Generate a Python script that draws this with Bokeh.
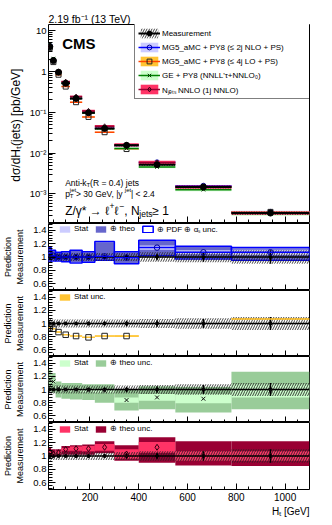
import numpy as np
from bokeh.plotting import figure
from bokeh.models import Range1d, FixedTicker, Label, Legend, LegendItem, Title
from bokeh.layouts import column
from bokeh.embed import file_html
from bokeh.resources import INLINE

# ---------------- data ----------------
ht_edges = [30, 41, 59, 83, 118, 168, 220, 300, 400, 550, 780, 1100]
xsec = [4.0, 1.83, 0.95, 0.51, 0.217, 0.097, 0.040, 0.0155, 0.0052, 0.00148, 0.00034]
meas_stat = [0.004, 0.005, 0.006, 0.007, 0.01, 0.015, 0.02, 0.03, 0.04, 0.06, 0.09]
meas_syst = [0.07, 0.06, 0.06, 0.06, 0.06, 0.06, 0.06, 0.06, 0.07, 0.08, 0.10]

nlo_ratio = [1.05, 1.02, 1.00, 1.00, 1.00, 1.00, 1.01, 0.99, 1.14, 1.07, 1.07]
nlo_stat = [0.01, 0.01, 0.01, 0.01, 0.01, 0.01, 0.015, 0.02, 0.03, 0.03, 0.04]
nlo_theo_lo = [0.93, 0.95, 0.95, 0.94, 0.92, 0.93, 0.96, 0.91, 1.03, 0.98, 0.96]
nlo_theo_hi = [1.13, 1.09, 1.06, 1.07, 1.09, 1.07, 1.22, 1.07, 1.24, 1.15, 1.13]
nlo_pdf_lo = [0.92, 0.94, 0.94, 0.93, 0.91, 0.92, 0.95, 0.90, 1.02, 0.97, 0.95]
nlo_pdf_hi = [1.14, 1.10, 1.07, 1.08, 1.10, 1.08, 1.23, 1.08, 1.25, 1.16, 1.14]

lo_ratio = [0.94, 0.92, 0.87, 0.83, 0.81, 0.79, 0.81, 0.81, np.nan, np.nan, 1.07]
lo_stat = [0.005, 0.005, 0.005, 0.005, 0.005, 0.005, 0.006, 0.01, np.nan, np.nan, 0.01]

ge_ratio = [1.15, 1.12, 1.02, 1.00, 1.00, 0.99, 0.98, 0.84, 0.88, 0.86, 0.98]
ge_stat = [0.04, 0.03, 0.03, 0.03, 0.03, 0.03, 0.03, 0.04, 0.05, 0.07, 0.10]
ge_theo_lo = [0.98, 0.95, 0.88, 0.86, 0.85, 0.84, 0.80, 0.68, 0.70, 0.65, 0.70]
ge_theo_hi = [1.30, 1.25, 1.12, 1.10, 1.10, 1.08, 1.08, 1.00, 1.05, 1.04, 1.27]

nj_ratio = [1.06, 1.03, 1.05, 1.10, 1.11, 1.11, 1.13, 1.03, 1.13, 1.00, 1.00]
nj_stat = [0.03, 0.02, 0.02, 0.02, 0.03, 0.04, 0.05, 0.07, 0.08, 0.07, 0.07]
nj_theo_lo = [0.98, 0.98, 1.00, 1.02, 1.02, 1.02, 1.04, 0.93, 0.90, 0.86, 0.85]
nj_theo_hi = [1.12, 1.10, 1.10, 1.15, 1.16, 1.17, 1.22, 1.16, 1.28, 1.22, 1.22]

x_major = [200, 400, 600, 800, 1000]
x_minor = [50, 100, 150, 250, 300, 350, 450, 500, 550, 650, 700, 750, 850, 900, 950, 1050]
y_major = [1e-3, 1e-2, 1e-1, 1, 10]
y_labels = {0.001: "10\u207b\u00b3", 0.01: "10\u207b\u00b2", 0.1: "10\u207b\u00b9", 1: "1", 10: "10"}
r_major = [0.6, 0.8, 1.0, 1.2, 1.4]
r_minor = [0.52, 0.56, 0.64, 0.68, 0.72, 0.76, 0.84, 0.88, 0.92, 0.96,
           1.04, 1.08, 1.12, 1.16, 1.24, 1.28, 1.32, 1.36, 1.44, 1.48]

# ---------------- geometry ----------------
FONT = "Liberation Sans"
BL, BR = 43, 21
FW = 266
TOT_W = BL + FW + BR
X0, X1 = 30, 1100
Y0, Y1 = 2e-4, 14
MAIN_H = 198
PPG = FW / (X1 - X0)
DEC = MAIN_H / np.log10(Y1 / Y0)


def fx(px):
    return X0 + px / PPG


def fy_main(py):
    return Y0 * 10 ** (py / DEC)


WID = {' ': 278, '!': 278, '(': 333, ')': 333, '*': 389, '+': 584, ',': 278, '-': 333, '.': 278,
       '/': 278, ':': 278, '<': 584, '=': 584, '>': 584, '[': 278, ']': 278, '_': 556, '|': 260,
       "'": 191, 'A': 667, 'B': 667, 'C': 722, 'D': 722, 'E': 667, 'F': 611, 'G': 778, 'H': 722,
       'I': 278, 'J': 500, 'K': 667, 'L': 556, 'M': 833, 'N': 722, 'O': 778, 'P': 667, 'Q': 778,
       'R': 722, 'S': 667, 'T': 611, 'U': 722, 'V': 667, 'W': 944, 'X': 667, 'Y': 667, 'Z': 611,
       'a': 556, 'b': 556, 'c': 500, 'd': 556, 'e': 556, 'f': 278, 'g': 556, 'h': 556, 'i': 222,
       'j': 222, 'k': 500, 'l': 222, 'm': 833, 'n': 556, 'o': 556, 'p': 556, 'q': 556, 'r': 333,
       's': 500, 't': 278, 'u': 556, 'v': 500, 'w': 722, 'x': 500, 'y': 500, 'z': 500,
       '\u03b3': 520, '\u03c3': 580, '\u03c4': 450, '\u2113': 420, '\u2192': 1000, '\u2265': 549,
       '\u2212': 584}
for d in "0123456789":
    WID[d] = 556


def tw(s, size):
    return sum(WID.get(c, 600) for c in s) * size / 1000.0


def rich(p, x, y, pieces, fyf, bold=False):
    pos = 0.0
    for piece in pieces:
        text, size, dy = piece[0], piece[1], piece[2]
        adv = piece[3] if len(piece) > 3 else True
        p.add_layout(Label(x=fx(x + pos), y=fyf(y + dy), text=text,
                           text_font=FONT, text_font_size=f"{size}px", text_color="black",
                           text_baseline="alphabetic", text_align="left",
                           text_font_style="bold" if bold else "normal"))
        if adv:
            pos += tw(text, size)


def tick_style(ax, major, minor, maj_len, min_len, labels, size="10px", standoff=2, overrides=None):
    ax.ticker = FixedTicker(ticks=major, minor_ticks=minor)
    ax.major_tick_in = maj_len
    ax.major_tick_out = 0
    ax.minor_tick_in = min_len
    ax.minor_tick_out = 0
    ax.axis_line_color = None
    ax.major_tick_line_color = "black"
    ax.minor_tick_line_color = "black"
    if labels:
        ax.major_label_text_font = FONT
        ax.major_label_text_font_size = size
        ax.major_label_text_color = "black"
        ax.major_label_text_alpha = 1.0
        ax.major_label_standoff = standoff
        if overrides:
            ax.major_label_overrides = overrides
    else:
        ax.major_label_text_font_size = "0px"
        ax.major_label_text_color = None
        ax.major_label_text_alpha = 0
        ax.major_label_standoff = 0


def axis_title(ax, text, size, standoff):
    ax.axis_label = text
    ax.axis_label_text_font = FONT
    ax.axis_label_text_font_size = size
    ax.axis_label_text_font_style = "normal"
    ax.axis_label_text_color = "black"
    ax.axis_label_standoff = standoff


def side_title(p, text, size, align, standoff, place, offset=0):
    p.add_layout(Title(text=text, text_font=FONT, text_font_size=size, text_font_style="normal",
                       text_color="black", align=align, standoff=standoff, offset=offset), place)


xr = Range1d(X0, X1)
left = np.array(ht_edges[:-1], float)
right = np.array(ht_edges[1:], float)
ctr = 0.5 * (left + right)
xs = np.array(xsec)


def make_fig(total_h, top, bottom, yr, log=False, title=None):
    p = figure(width=TOT_W, height=total_h, x_range=xr, y_range=yr,
               y_axis_type="log" if log else "linear", output_backend="svg",
               toolbar_location=None, min_border_left=BL, min_border_right=BR,
               min_border_top=top, min_border_bottom=bottom, title=title,
               background_fill_color="white", border_fill_color="white")
    p.grid.visible = False
    p.outline_line_color = "black"
    p.outline_line_width = 1
    return p


HATCH = dict(fill_alpha=0, line_alpha=0, hatch_pattern="/", hatch_color="#222222",
             hatch_alpha=0.85, hatch_scale=5, hatch_weight=1)

# ---------------- main panel ----------------
pm = make_fig(24 + MAIN_H + 1, 24, 1, Range1d(Y0, Y1), log=True,
              title="2.19 fb\u207b\u00b9 (13 TeV)")
pm.title.text_font = FONT
pm.title.text_font_size = "10.5px"
pm.title.text_font_style = "normal"
pm.title.text_color = "black"
pm.title.align = "left"
pm.title.standoff = 0
pm.title.offset = 0
for ax in pm.xaxis:
    tick_style(ax, x_major, x_minor, 6, 3, False)
ymin = [m * 10.0 ** e for e in range(-4, 2) for m in range(2, 10)]
tick_style(pm.yaxis[0], y_major, ymin, 7, 4, True, size="9.5px", standoff=2, overrides=y_labels)
side_title(pm, "d\u03c3/dH\u209c(jets)  [pb/GeV]", "12px", "center", 7, "left", offset=40)

models = [
    (nlo_ratio, nlo_stat, "#ccccff", "#0000ff", "circle", "#000099"),
    (lo_ratio, lo_stat, "#ffc433", "#ff4400", "square", "#222222"),
    (ge_ratio, ge_stat, "#ccffcc", "#008000", "x", "#003300"),
    (nj_ratio, nj_stat, "#ff3366", "#990033", "diamond", "#330011"),
]
leg_r = []
for rat, st, fc, lc, mk, mc in models:
    rr = np.array(rat, float)
    ss = np.array(st, float)
    pv = xs * rr
    q = pm.quad(left=left, right=right, bottom=pv * (1 - ss - 0.02), top=pv * (1 + ss + 0.02),
                fill_color=fc, line_color=None)
    s = pm.segment(x0=left, x1=right, y0=pv, y1=pv, line_color=lc, line_width=1.5)
    c = pm.scatter(ctr, pv, marker=mk, size=5, fill_color=None, line_color=mc, line_width=1)
    leg_r.append([q, s, c])

mq = pm.quad(left=left, right=right, bottom=xs * (1 - np.array(meas_syst)),
             top=xs * (1 + np.array(meas_syst)), **HATCH)
ms = pm.segment(x0=left, x1=right, y0=xs, y1=xs, line_color="black", line_width=2)
pm.segment(x0=ctr, x1=ctr, y0=xs * (1 - np.array(meas_stat) - 0.05),
           y1=xs * (1 + np.array(meas_stat) + 0.05), line_color="black", line_width=1.5)
mc_ = pm.scatter(ctr, xs, marker="circle", size=6, fill_color="black", line_color="black")

legend = Legend(items=[
    LegendItem(label="Measurement", renderers=[mq, ms, mc_]),
    LegendItem(label="MG5_aMC + PY8 (\u2264 2j NLO + PS)", renderers=leg_r[0]),
    LegendItem(label="MG5_aMC + PY8 (\u2264 4j LO + PS)", renderers=leg_r[1]),
    LegendItem(label="GE + PY8 (NNLL'\u03c4+NNLO\u2080)", renderers=leg_r[2]),
    LegendItem(label="N\u2c7c\u2091\u209c\u209b NNLO (1j NNLO)", renderers=leg_r[3]),
], location=(86, 123), orientation="vertical", glyph_width=22, glyph_height=12,
    label_height=12, label_width=148, label_standoff=2, spacing=2, padding=3, margin=0,
    label_text_font=FONT, label_text_font_size="8px", label_text_color="black",
    border_line_color="black", border_line_width=1, background_fill_color="white",
    background_fill_alpha=1)
pm.add_layout(legend)

rich(pm, 14, 179, [("CMS", 15, 0)], fy_main, bold=True)
rich(pm, 17, 39.5, [("Anti-", 8.5, 0), ("k", 8.5, 0), ("T", 6, -2), (" (R = 0.4) jets", 8.5, 0)],
     fy_main)
rich(pm, 17, 28.7, [("p", 8.5, 0), ("T", 6, -2, False), ("jet", 6, 4), (" > 30 GeV, |y", 8.5, 0),
                     ("jet", 6, 4), ("| < 2.4", 8.5, 0)], fy_main)
rich(pm, 17, 12, [("Z/\u03b3* \u2192 \u2113", 12, 0), ("+", 8.5, 5), ("\u2113", 12, 0),
                   ("\u2212", 8.5, 5), (", N", 12, 0), ("jets", 8.5, -3), (" \u2265 1", 12, 0)],
     fy_main)


# ---------------- ratio panels ----------------
def ratio_common(p):
    syst = np.array(meas_syst)
    p.quad(left=left, right=right, bottom=1 - syst, top=1 + syst, **HATCH)
    p.segment(x0=left, x1=right, y0=np.ones(len(left)), y1=np.ones(len(left)),
              line_color="black", line_width=1.5)
    st = np.array(meas_stat)
    p.segment(x0=ctr, x1=ctr, y0=1 - st - 0.01, y1=1 + st + 0.01, line_color="black", line_width=1.5)
    p.scatter(ctr, np.ones(len(ctr)), marker="circle", size=3, fill_color="black", line_color="black")


def small_legend(p, fh, items):
    leg = Legend(items=items, location=(10, fh - 3 - 8), orientation="horizontal",
                 glyph_width=13, glyph_height=8, label_height=8, label_width=5,
                 label_standoff=3, spacing=6, padding=0, margin=0,
                 label_text_font=FONT, label_text_font_size="8px", label_text_color="black",
                 border_line_color=None, background_fill_alpha=0)
    p.add_layout(leg)


def set_axes(p, xlabels):
    for ax in p.xaxis:
        tick_style(ax, x_major, x_minor, 6, 3, False)
    if xlabels:
        tick_style(p.xaxis[0], x_major, x_minor, 6, 3, True, size="10px", standoff=3)
    tick_style(p.yaxis[0], r_major, r_minor, 7, 4, True, size="9.5px", standoff=2,
               overrides={1: "1"})
    axis_title(p.yaxis[0], "Prediction\nMeasurement", "9px", 5)


yr = Range1d(0.5, 1.5)

r1 = make_fig(67, 0, 0, yr)
set_axes(r1, False)
t1 = r1.quad(left=left, right=right, bottom=nlo_theo_lo, top=nlo_theo_hi, fill_color="#6666cc",
             line_color=None)
s1 = r1.quad(left=left, right=right, bottom=np.array(nlo_ratio) - np.array(nlo_stat),
             top=np.array(nlo_ratio) + np.array(nlo_stat), fill_color="#ccccff", line_color=None)
p1 = r1.quad(left=left, right=right, bottom=nlo_pdf_lo, top=nlo_pdf_hi, fill_alpha=0,
             line_color="#0000ff", line_width=1.5)
ratio_common(r1)
nr = np.array(nlo_ratio, float)
r1.segment(x0=left, x1=right, y0=nr, y1=nr, line_color="#0000ff", line_width=1.5)
r1.scatter(ctr, nr, marker="circle", size=5.5, fill_color=None, line_color="#000099")
small_legend(r1, 67, [LegendItem(label="Stat", renderers=[s1]),
                      LegendItem(label="\u2295 theo", renderers=[t1]),
                      LegendItem(label="\u2295 PDF \u2295 \u03b1\u209b unc.", renderers=[p1])])

r2 = make_fig(66, 0, 0, yr)
set_axes(r2, False)
lr = np.array(lo_ratio, float)
ls = np.array(lo_stat, float)
s2 = r2.quad(left=left, right=right, bottom=lr - ls, top=lr + ls, fill_color="#ffc433",
             line_color=None)
ratio_common(r2)
r2.segment(x0=left, x1=right, y0=lr, y1=lr, line_color="#ffc433", line_width=1.5)
r2.scatter(ctr[:8], lr[:8], marker="square", size=5.5, fill_color=None, line_color="#222222")
small_legend(r2, 66, [LegendItem(label="Stat unc.", renderers=[s2])])

r3 = make_fig(66, 0, 0, yr)
set_axes(r3, False)
t3 = r3.quad(left=left, right=right, bottom=ge_theo_lo, top=ge_theo_hi, fill_color="#99cc99",
             line_color=None)
s3 = r3.quad(left=left, right=right, bottom=np.array(ge_ratio) - np.array(ge_stat),
             top=np.array(ge_ratio) + np.array(ge_stat), fill_color="#ccffcc", line_color=None)
ratio_common(r3)
r3.scatter(ctr, ge_ratio, marker="x", size=5.5, line_color="#111111", line_width=1)
small_legend(r3, 66, [LegendItem(label="Stat", renderers=[s3]),
                      LegendItem(label="\u2295 theo unc.", renderers=[t3])])

r4 = make_fig(67 + 34, 0, 34, yr)
set_axes(r4, True)
side_title(r4, "H\u209c [GeV]", "10px", "right", 0, "below")
t4 = r4.quad(left=left, right=right, bottom=nj_theo_lo, top=nj_theo_hi, fill_color="#990033",
             line_color=None)
s4 = r4.quad(left=left, right=right, bottom=np.array(nj_ratio) - np.array(nj_stat),
             top=np.array(nj_ratio) + np.array(nj_stat), fill_color="#ff3366", line_color=None)
ratio_common(r4)
r4.scatter(ctr, nj_ratio, marker="diamond", size=6, fill_color=None, line_color="#330011")
small_legend(r4, 67, [LegendItem(label="Stat", renderers=[s4]),
                      LegendItem(label="\u2295 theo unc.", renderers=[t4])])

layout = column(pm, r1, r2, r3, r4, spacing=0)
open("out.html", "w").write(file_html(layout, INLINE, title="CMS HT"))
